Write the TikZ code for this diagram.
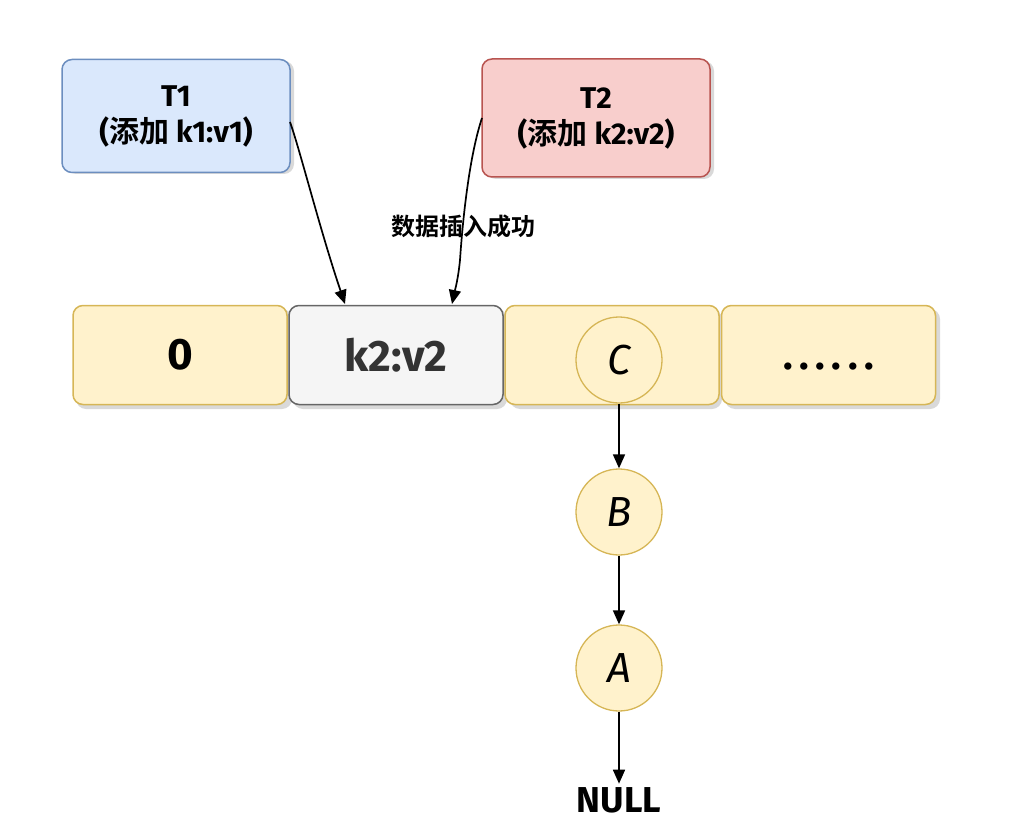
\documentclass[tikz,border=0pt]{standalone}
\usepackage{fontspec}
\setmainfont{Fira Sans}
\newfontfamily\cjk{Noto Sans CJK SC}[BoldFont={* Bold}]
\usetikzlibrary{arrows.meta}
\definecolor{bluef}{HTML}{DAE8FC}\definecolor{blued}{HTML}{6C8EBF}
\definecolor{redf}{HTML}{F8CECC}\definecolor{redd}{HTML}{B85450}
\definecolor{yelf}{HTML}{FFF2CC}\definecolor{yeld}{HTML}{D6B656}
\definecolor{grayf}{HTML}{F5F5F5}\definecolor{grayd}{HTML}{666666}
\begin{document}
\begin{tikzpicture}[x=1pt,y=-1pt,
  box/.style={rounded corners=10pt, line width=1.5pt, inner sep=0pt},
  cell/.style={box, fill=yelf, draw=yeld, minimum width=214pt, minimum height=99pt},
  circ/.style={circle, fill=yelf, draw=yeld, line width=1.3pt, minimum size=86pt, inner sep=0pt, font=\fontsize{42}{42}\selectfont\itshape},
  arr/.style={-{Triangle[length=14pt,width=12pt]}, line width=1.7pt, black},
  shad/.style={fill=black!15, rounded corners=10pt, draw=none}]
\useasboundingbox (0,0) rectangle (1011,821);
% shadows
\fill[shad] (66,61) rectangle (294,174);
\fill[shad] (486,61) rectangle (714,179);
\fill[shad] (76,309) rectangle (292,409);
\fill[shad] (293,309) rectangle (507,409);
\fill[shad] (510,309) rectangle (722,409);
\fill[shad] (725,309) rectangle (940,409);
% top boxes
\node[box, fill=bluef, draw=blued, minimum width=228pt, minimum height=113pt, align=center, font=\fontsize{30}{36}\selectfont\bfseries] (t1) at (176,116) {T1\\({\cjk 添加} k1:v1)};
\node[box, fill=redf, draw=redd, minimum width=228pt, minimum height=118pt, align=center, font=\fontsize{30}{36}\selectfont\bfseries] (t2) at (596,118) {T2\\({\cjk 添加} k2:v2)};
% row
\node[cell, font=\fontsize{44}{44}\selectfont\bfseries] (c0) at (180,355) {0};
\node[cell, fill=grayf, draw=grayd, font=\fontsize{44}{44}\selectfont\bfseries, text=black!80] (c1) at (396,355) {k2:v2};
\node[cell] (c2) at (612,355) {};
\node[cell, text height=0pt, text depth=0pt, font=\fontsize{40}{40}\selectfont\bfseries] (c3) at (828.5,355) {\raisebox{-14pt}{.\,.\,.\,.\,.\,.}};
% chain
\node[circ] (C) at (619,360) {C};
\node[circ] (B) at (619,512) {B};
\node[circ] (A) at (619,668) {A};
\node[font=\fontsize{36}{36}\selectfont\bfseries] (null) at (619,800) {NULL};
% label
\node[font=\cjk\bfseries\fontsize{24}{24}\selectfont, inner sep=2pt] (lab) at (463,226) {数据插入成功};
% arrows
\coordinate (t1s) at (290,122);
\coordinate (t2s) at (482,118);
\draw[arr] (t1s) .. controls (300,150) and (320,230) .. (345,304);
\draw[arr] (t2s) .. controls (468,160) and (462,230) .. (460,260) .. controls (458,280) and (455,290) .. (452,304);
\draw[arr] (C) -- (B);
\draw[arr] (B) -- (A);
\draw[arr] (A) -- (null);
\end{tikzpicture}
\end{document}
